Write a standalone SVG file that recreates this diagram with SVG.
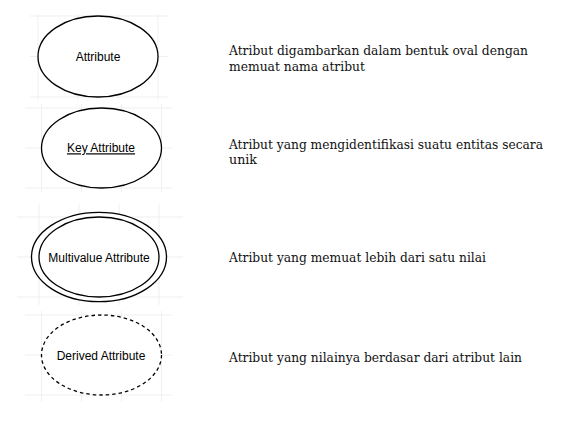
<svg xmlns="http://www.w3.org/2000/svg" width="577" height="421" viewBox="0 0 577 421">
<style>
.grid{stroke:#efefef;stroke-width:1;fill:none}
.shape{fill:#fff;stroke:#000;stroke-width:1.3}
.dash{stroke-dasharray:3.5 3}
.lbl{font-family:"Liberation Sans",Arial,sans-serif;font-size:12px;fill:#000;text-anchor:middle}
.desc{font-family:"DejaVu Serif","Liberation Serif",serif;font-size:13.5px;fill:#111}
</style>
<rect width="577" height="421" fill="#fff"/>
<g id="grid" class="grid">
<path d="M30 16H168M30 56.5H168M30 97H168M38 14V100M78 14V100M118 14V100M158 14V100"/>
<path d="M25 108H172M25 148H172M25 188H172M41.5 104V192M81.5 104V192M121.5 104V192M161.5 104V192"/>
<path d="M17 217H183M17 257H183M17 297H183M39 204V305M79 204V305M119 204V305M159 204V305"/>
<path d="M25 315H172M25 355H172M25 395H172M41.5 311V402M81.5 311V402M121.5 311V402M161.5 311V402"/>
</g>
<g id="connectors"></g>
<g id="attribute">
<ellipse class="shape" cx="98" cy="56.5" rx="60" ry="40.5"/>
<text class="lbl" x="98" y="61">Attribute</text>
</g>
<g id="key-attribute">
<ellipse class="shape" cx="101.5" cy="148" rx="60" ry="40"/>
<text class="lbl" x="101" y="152.3" text-decoration="underline">Key Attribute</text>
</g>
<g id="multivalue-attribute">
<ellipse class="shape" cx="99" cy="257" rx="67.5" ry="44.7"/>
<ellipse class="shape" cx="99" cy="257" rx="60" ry="40"/>
<text class="lbl" x="99" y="262">Multivalue Attribute</text>
</g>
<g id="derived-attribute">
<ellipse class="shape dash" cx="101.5" cy="355" rx="60" ry="40"/>
<text class="lbl" x="101" y="360">Derived Attribute</text>
</g>
<g id="descriptions">
<text class="desc" x="229" y="55" textLength="299" lengthAdjust="spacingAndGlyphs">Atribut digambarkan dalam bentuk oval dengan</text>
<text class="desc" x="229" y="71" textLength="136" lengthAdjust="spacingAndGlyphs">memuat nama atribut</text>
<text class="desc" x="229" y="148.5" textLength="314" lengthAdjust="spacingAndGlyphs">Atribut yang mengidentifikasi suatu entitas secara</text>
<text class="desc" x="229" y="164" textLength="28" lengthAdjust="spacingAndGlyphs">unik</text>
<text class="desc" x="229" y="262" textLength="257" lengthAdjust="spacingAndGlyphs">Atribut yang memuat lebih dari satu nilai</text>
<text class="desc" x="229" y="362" textLength="293" lengthAdjust="spacingAndGlyphs">Atribut yang nilainya berdasar dari atribut lain</text>
</g>
</svg>
